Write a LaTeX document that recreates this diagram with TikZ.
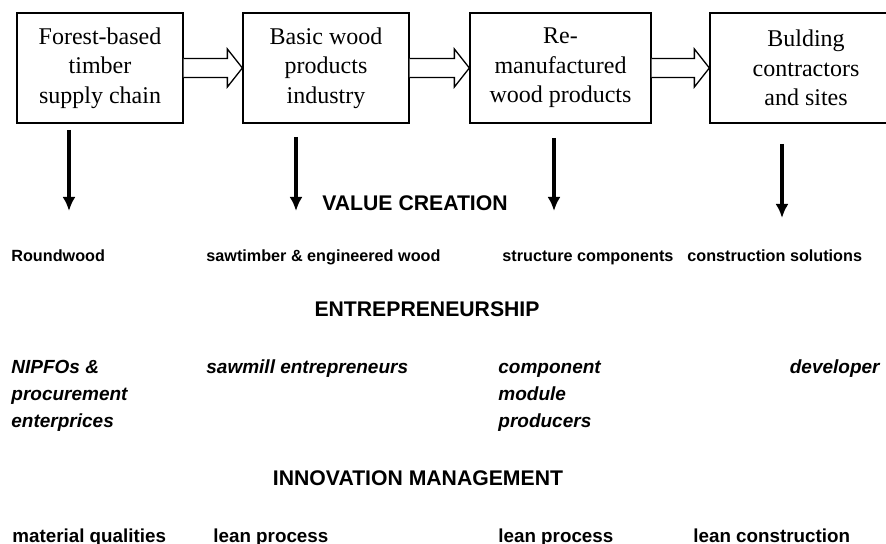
\documentclass[tikz,border=0pt]{standalone}
\usepackage{fontspec}
\setmainfont{Liberation Serif}
\setsansfont{Liberation Sans}
\usetikzlibrary{arrows.meta,calc}

\tikzset{
  stage/.style={draw,line width=0.65pt,minimum height=55pt,align=center,inner sep=0pt,font=\fontsize{12}{14.75}\selectfont},
  hollow/.style={draw,line width=0.65pt,fill=white},
  flowdown/.style={line width=1.6pt,-{Latex[length=7pt,width=6.5pt]}},
  outcome/.style={anchor=base west,inner sep=0pt,font=\sffamily\bfseries\fontsize{8.1}{9.7}\selectfont},
  actor/.style={anchor=base west,inner sep=0pt,align=left,font=\sffamily\bfseries\itshape\fontsize{9.5}{13.5}\selectfont},
  practice/.style={anchor=base west,inner sep=0pt,font=\sffamily\bfseries\fontsize{9.4}{11}\selectfont},
  heading/.style={anchor=base,inner sep=0pt,font=\sffamily\bfseries\fontsize{10.6}{12.5}\selectfont}
}

\begin{document}
\begin{tikzpicture}[x=0.5pt,y=-0.5pt]
\useasboundingbox (0,0) rectangle (886,544);
% chain of stages
\node[stage,minimum width=83pt] (supply) at (100,68) {Forest-based\\timber\\supply chain};
\node[stage,minimum width=83pt] (basic) at (326,68) {Basic wood\\products\\industry};
\node[stage,minimum width=90.5pt] (reman) at (560.5,68) {Re-\\manufactured\\wood products};
\node[stage,minimum width=96pt] (contract) at (806,68) {Bulding\\contractors\\and sites};
\foreach \a/\b in {supply/basic,basic/reman,reman/contract}
  \draw[hollow] ($(\a.east)+(0,-9.5)$) -- ($(\b.west)+(-15,-9.5)$) -- ($(\b.west)+(-15,-19)$) -- (\b.west)
    -- ($(\b.west)+(-15,19)$) -- ($(\b.west)+(-15,9.5)$) -- ($(\a.east)+(0,9.5)$);
% downward arrows
\coordinate (d1a) at (69,130);  \coordinate (d1b) at (69,211);
\coordinate (d2a) at (296,137); \coordinate (d2b) at (296,211);
\coordinate (d3a) at (554,138); \coordinate (d3b) at (554,211);
\coordinate (d4a) at (782,144); \coordinate (d4b) at (782,218);
\foreach \i in {1,...,4}
  \draw[flowdown] (d\i a) -- (d\i b);
% value creation
\node[heading] (value) at (415,211) {VALUE CREATION};
\node[outcome] (round) at (11,262) {Roundwood};
\node[outcome] (sawn) at (206,262) {sawtimber \& engineered wood};
\node[outcome] (struct) at (502,262) {structure components};
\node[outcome] (solut) at (687,262) {construction solutions};
% entrepreneurship (multi-line nodes sit on their last line)
\node[heading] (entre) at (427,316) {ENTREPRENEURSHIP};
\node[actor] (nipfo) at (11,427) {NIPFOs \&\\procurement\\enterprices};
\node[actor] (sawmill) at (206,373) {sawmill entrepreneurs};
\node[actor] (compo) at (498,427) {component\\module\\producers};
\node[actor,anchor=base east] (devel) at (880,373) {developer};
% innovation management
\node[heading] (innov) at (418,485) {INNOVATION MANAGEMENT};
\node[practice] (matq) at (12,542) {material qualities};
\node[practice] (lean1) at (213,542) {lean process};
\node[practice] (lean2) at (498,542) {lean process};
\node[practice] (leanc) at (693,542) {lean construction};
\end{tikzpicture}
\end{document}
